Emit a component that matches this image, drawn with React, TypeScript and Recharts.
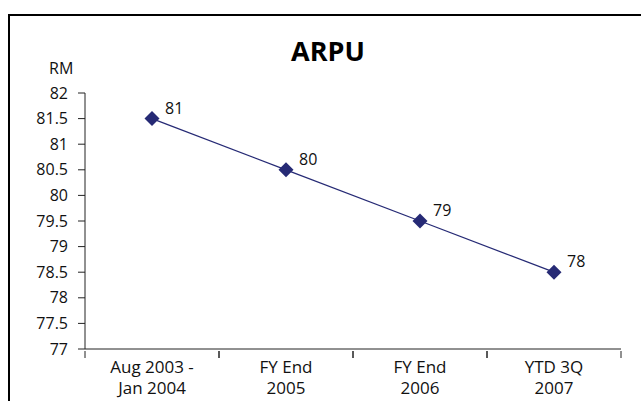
import React from "react";
import { LineChart, Line, XAxis, YAxis, LabelList } from "recharts";

const categories = ["Aug 2003 -|Jan 2004", "FY End|2005", "FY End|2006", "YTD 3Q|2007"];
const arpuValues = [81.5, 80.5, 79.5, 78.5];
const arpuLabels = ["81", "80", "79", "78"];
const yTicks = [77, 77.5, 78, 78.5, 79, 79.5, 80, 80.5, 81, 81.5, 82];

const data = categories.map((name, i) => ({
  name,
  arpu: arpuValues[i],
  label: arpuLabels[i]
}));

const FONT = "'Open Sans', sans-serif";
const NAVY = "#262a75";
const BAND = 134;

function CategoryTick({ x, y, payload }: any) {
  const lines = String(payload.value).split("|");
  return (
    <g>
      <line x1={x - BAND / 2} y1={y - 6} x2={x - BAND / 2} y2={y + 1} stroke="#222" />
      <line x1={x + BAND / 2} y1={y - 6} x2={x + BAND / 2} y2={y + 1} stroke="#222" />
      {lines.map((t, i) => (
        <text key={i} x={x} y={y + 16 + i * 21} textAnchor="middle" fontSize={17} fill="#111" fontFamily={FONT}>
          {t}
        </text>
      ))}
    </g>
  );
}

function Diamond({ cx, cy }: any) {
  if (cx == null || cy == null) return null;
  const r = 7.5;
  return <path d={`M${cx},${cy - r}L${cx + r},${cy}L${cx},${cy + r}L${cx - r},${cy}Z`} fill={NAVY} />;
}

function ValueLabel({ x, y, value }: any) {
  return (
    <text x={x + 13} y={y - 5} fontSize={16} fill="#111" fontFamily={FONT}>
      {value}
    </text>
  );
}

export default function App() {
  return (
    <div style={{ position: "absolute", left: 0, top: 0, width: 641, height: 401, background: "#fff", overflow: "hidden" }}>
      <div
        style={{
          position: "absolute",
          left: 8,
          top: 14,
          width: 633,
          height: 387,
          borderLeft: "2px solid #000",
          borderTop: "2px solid #000",
          boxSizing: "border-box"
        }}
      />
      <div
        style={{
          position: "absolute",
          left: 0,
          width: 656,
          top: 32,
          textAlign: "center",
          fontFamily: FONT,
          fontWeight: 700,
          fontSize: 27,
          color: "#000"
        }}
      >
        ARPU
      </div>
      <div style={{ position: "absolute", left: 49, top: 57, fontFamily: FONT, fontSize: 16, color: "#111" }}>RM</div>
      <div style={{ position: "absolute", left: 0, top: 0 }}>
        <LineChart width={641} height={401} data={data} margin={{ top: 93, right: 20, bottom: 22, left: 0 }}>
          <XAxis
            dataKey="name"
            height={30}
            padding={{ left: BAND / 2, right: BAND / 2 }}
            axisLine={{ stroke: "#222" }}
            tickLine={false}
            tick={<CategoryTick />}
            interval={0}
          />
          <YAxis
            width={85}
            domain={[77, 82]}
            ticks={yTicks}
            interval={0}
            axisLine={{ stroke: "#222" }}
            tickLine={{ stroke: "#222" }}
            tickSize={7}
            tickMargin={10}
            tick={{ fontSize: 16, fill: "#111", fontFamily: FONT }}
          />
          <Line
            dataKey="arpu"
            stroke={NAVY}
            strokeWidth={1.3}
            dot={<Diamond />}
            activeDot={false}
            isAnimationActive={false}
          >
            <LabelList dataKey="label" content={<ValueLabel />} />
          </Line>
        </LineChart>
      </div>
    </div>
  );
}
